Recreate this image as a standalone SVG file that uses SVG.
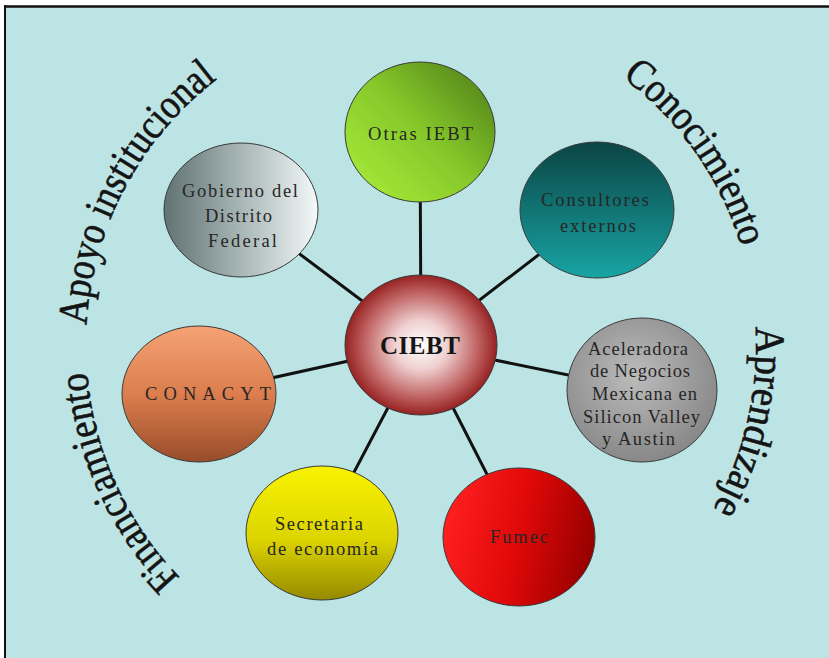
<svg xmlns="http://www.w3.org/2000/svg" xmlns:xlink="http://www.w3.org/1999/xlink" width="829" height="658" viewBox="0 0 829 658">
  <style>
    .node { stroke: #3a3a3a; stroke-width: 1; }
    .lbl { font-family: "Liberation Serif", "Times New Roman", serif; font-size: 18.5px; fill: #262626; text-anchor: start; }
    .hub { font-family: "Liberation Serif", "Times New Roman", serif; font-size: 25px; font-weight: bold; fill: #151515; }
    .arc { font-family: "Liberation Serif", "Times New Roman", serif; font-size: 42px; fill: #141414; stroke: #141414; stroke-width: 0.6; }
    .link { stroke: #111; stroke-width: 3; stroke-linecap: round; }
  </style>
  <defs>
    <linearGradient id="gGreen" x1="0.1" y1="0.85" x2="0.9" y2="0.1">
      <stop offset="0" stop-color="#a2e636"/>
      <stop offset="0.5" stop-color="#86c82a"/>
      <stop offset="1" stop-color="#55881a"/>
    </linearGradient>
    <linearGradient id="gGrey" x1="0" y1="0.5" x2="1" y2="0.5">
      <stop offset="0" stop-color="#607272"/>
      <stop offset="0.5" stop-color="#a8b6b6"/>
      <stop offset="1" stop-color="#f4f8f8"/>
    </linearGradient>
    <linearGradient id="gTeal" x1="0.5" y1="0" x2="0.5" y2="1">
      <stop offset="0" stop-color="#0b4444"/>
      <stop offset="1" stop-color="#18a4a4"/>
    </linearGradient>
    <radialGradient id="gHub" cx="0.5" cy="0.5" r="0.5">
      <stop offset="0" stop-color="#ffffff"/>
      <stop offset="0.35" stop-color="#efd0d0"/>
      <stop offset="0.75" stop-color="#c06262"/>
      <stop offset="1" stop-color="#962222"/>
    </radialGradient>
    <linearGradient id="gOrange" x1="0.5" y1="0" x2="0.5" y2="1">
      <stop offset="0" stop-color="#f5a274"/>
      <stop offset="0.5" stop-color="#dc7e4e"/>
      <stop offset="1" stop-color="#984c2a"/>
    </linearGradient>
    <radialGradient id="gSilver" cx="0.45" cy="0.4" r="0.6">
      <stop offset="0" stop-color="#bcbcbc"/>
      <stop offset="1" stop-color="#888888"/>
    </radialGradient>
    <linearGradient id="gYellow" x1="0.5" y1="0" x2="0.5" y2="1">
      <stop offset="0" stop-color="#f8f300"/>
      <stop offset="0.55" stop-color="#dcd400"/>
      <stop offset="1" stop-color="#948a00"/>
    </linearGradient>
    <linearGradient id="gRed" x1="0" y1="0.4" x2="1" y2="0.6">
      <stop offset="0" stop-color="#ff2020"/>
      <stop offset="0.5" stop-color="#e00808"/>
      <stop offset="1" stop-color="#940000"/>
    </linearGradient>
    <!-- baseline arcs around the hub, all drawn clockwise -->
    <path id="pApoyo" d="M 86.6 325.1 A 335 335 0 0 1 217.5 78.9"/>
    <path id="pCono" d="M 622.1 77.1 A 335 335 0 0 1 741.4 247.0"/>
    <path id="pApre" d="M 755.5 326.9 A 335 335 0 0 1 712.6 510.0"/>
    <path id="pFin" d="M 180.0 577.7 A 335 335 0 0 1 87.1 371.9"/>
  </defs>

  <!-- canvas and frame -->
  <rect x="0" y="0" width="829" height="658" fill="#ffffff"/>
  <rect x="5" y="6" width="824" height="652" fill="#bde4e4"/>
  <line x1="4" y1="6.5" x2="829" y2="6.5" stroke="#111" stroke-width="2.5"/>
  <line x1="5" y1="5" x2="5" y2="658" stroke="#111" stroke-width="2"/>

  <!-- curved category captions -->
  <g id="captions">
    <text class="arc" id="cap-apoyo"><textPath xlink:href="#pApoyo" href="#pApoyo" textLength="287" lengthAdjust="spacingAndGlyphs">Apoyo institucional</textPath></text>
    <text class="arc" id="cap-conocimiento"><textPath xlink:href="#pCono" href="#pCono" textLength="211" lengthAdjust="spacingAndGlyphs">Conocimiento</textPath></text>
    <text class="arc" id="cap-aprendizaje"><textPath xlink:href="#pApre" href="#pApre" textLength="190" lengthAdjust="spacingAndGlyphs">Aprendizaje</textPath></text>
    <text class="arc" id="cap-financiamiento"><textPath xlink:href="#pFin" href="#pFin" textLength="230" lengthAdjust="spacingAndGlyphs">Financiamiento</textPath></text>
  </g>

  <!-- spokes from the hub -->
  <g id="connectors">
    <line class="link" x1="421" y1="345" x2="420" y2="132"/>
    <line class="link" x1="421" y1="345" x2="241" y2="210"/>
    <line class="link" x1="421" y1="345" x2="597" y2="210"/>
    <line class="link" x1="421" y1="345" x2="199" y2="394"/>
    <line class="link" x1="421" y1="345" x2="642" y2="390"/>
    <line class="link" x1="421" y1="345" x2="322" y2="533"/>
    <line class="link" x1="421" y1="345" x2="519" y2="537"/>
  </g>

  <g id="node-otras">
    <ellipse class="node" cx="420" cy="132" rx="75" ry="70" fill="url(#gGreen)"/>
    <text class="lbl" x="368" y="140" textLength="105">Otras IEBT</text>
  </g>

  <g id="node-gobierno">
    <ellipse class="node" cx="241" cy="210" rx="77" ry="67" fill="url(#gGrey)"/>
    <text class="lbl" x="182" y="197" textLength="116">Gobierno del</text>
    <text class="lbl" x="205" y="222" textLength="67">Distrito</text>
    <text class="lbl" x="208" y="247" textLength="69">Federal</text>
  </g>

  <g id="node-consultores">
    <ellipse class="node" cx="597" cy="210" rx="77" ry="68" fill="url(#gTeal)"/>
    <text class="lbl" x="541" y="206" textLength="108">Consultores</text>
    <text class="lbl" x="560" y="232" textLength="76">externos</text>
  </g>

  <g id="node-ciebt">
    <ellipse class="node" cx="421" cy="345" rx="76" ry="70" fill="url(#gHub)"/>
    <text class="hub" x="380" y="354" textLength="80">CIEBT</text>
  </g>

  <g id="node-conacyt">
    <ellipse class="node" cx="199" cy="394" rx="77" ry="68" fill="url(#gOrange)"/>
    <text class="lbl" x="145" y="400" textLength="126">CONACYT</text>
  </g>

  <g id="node-aceleradora">
    <ellipse class="node" cx="642" cy="390" rx="75" ry="72" fill="url(#gSilver)"/>
    <text class="lbl" x="588" y="355" textLength="100">Aceleradora</text>
    <text class="lbl" x="590" y="377" textLength="100">de Negocios</text>
    <text class="lbl" x="592" y="400" textLength="105">Mexicana en</text>
    <text class="lbl" x="583" y="423" textLength="117">Silicon Valley</text>
    <text class="lbl" x="602" y="445" textLength="73">y Austin</text>
  </g>

  <g id="node-secretaria">
    <ellipse class="node" cx="322" cy="533" rx="76" ry="67" fill="url(#gYellow)"/>
    <text class="lbl" x="275" y="530" textLength="88">Secretaria</text>
    <text class="lbl" x="267" y="555" textLength="111">de economía</text>
  </g>

  <g id="node-fumec">
    <ellipse class="node" cx="519" cy="537" rx="76" ry="69" fill="url(#gRed)"/>
    <text class="lbl" x="490" y="543" textLength="58" fill="#3a0000">Fumec</text>
  </g>
</svg>
